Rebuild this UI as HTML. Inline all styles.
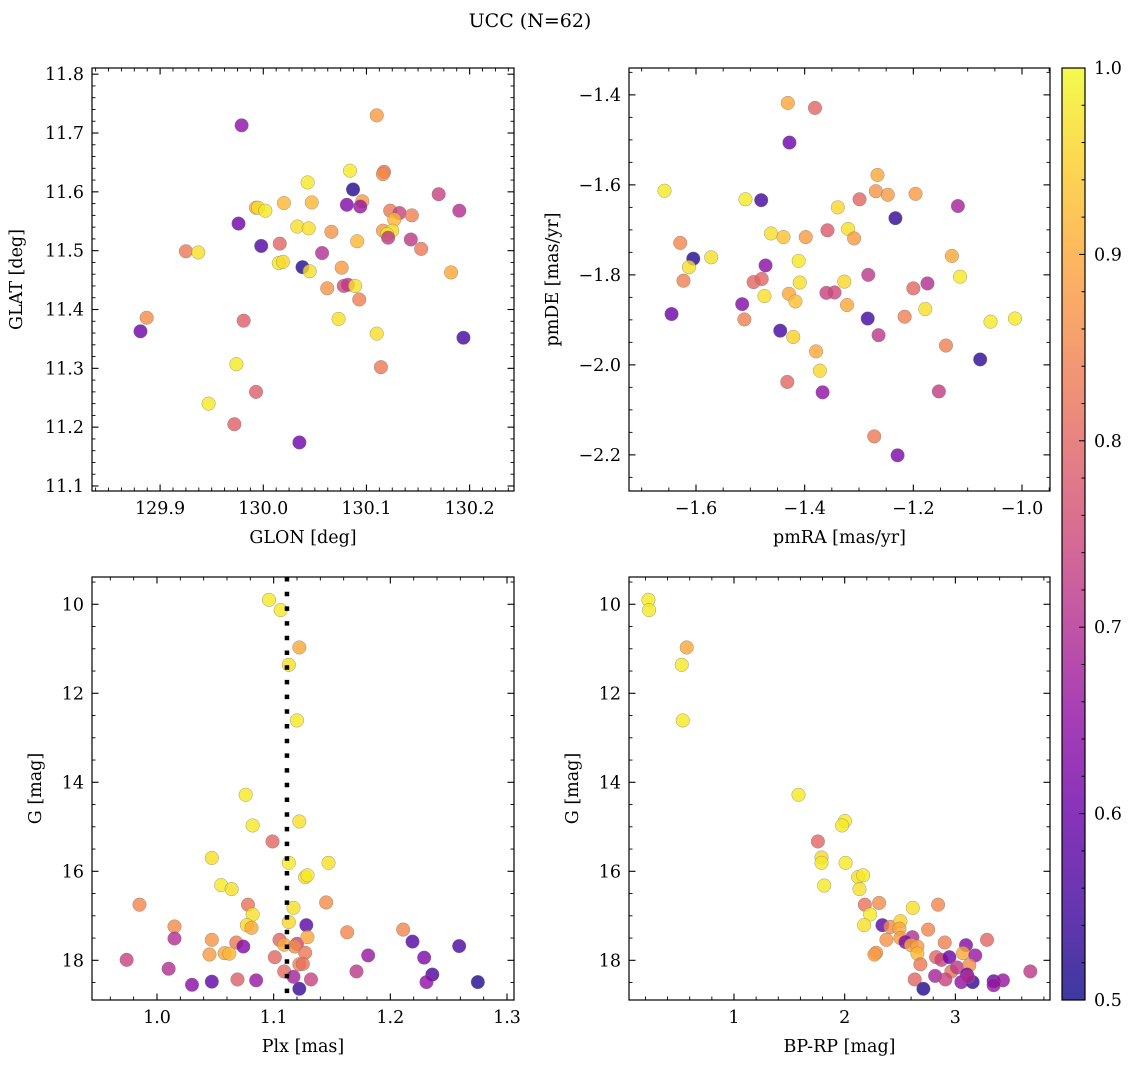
<!DOCTYPE html>
<html><head><meta charset="utf-8"><style>
html,body{margin:0;padding:0;background:#fff;}
svg{display:block;font-family:"DejaVu Serif","Liberation Serif",serif;}
</style></head><body>
<svg id="chart" width="1136" height="1067" viewBox="0 0 1136 1067" xmlns="http://www.w3.org/2000/svg">
<defs>
<linearGradient id="plasma" x1="0" y1="1" x2="0" y2="0">
<stop offset="0" stop-color="#0d0887"/><stop offset="0.1" stop-color="#41049d"/><stop offset="0.2" stop-color="#6a00a8"/><stop offset="0.3" stop-color="#8f0da4"/><stop offset="0.4" stop-color="#b12a90"/><stop offset="0.5" stop-color="#cc4778"/><stop offset="0.6" stop-color="#e16462"/><stop offset="0.7" stop-color="#f2844b"/><stop offset="0.8" stop-color="#fca636"/><stop offset="0.9" stop-color="#fcce25"/><stop offset="1" stop-color="#f0f921"/>
</linearGradient>
</defs>
<text x="530" y="27" font-size="19" text-anchor="middle">UCC (N=62)</text>
</svg>
<script>
// Panel 1: GLON / GLAT
const glon = [130.110,129.979,130.084,130.117,130.116,130.043,130.087,130.170,130.096,130.081,130.094,130.020,130.047,129.993,129.995,130.002,130.190,130.123,130.132,130.144,130.127,129.976,130.033,130.044,130.116,130.125,130.120,130.121,130.066,130.091,130.143,129.998,130.016,130.153,129.925,129.937,130.057,130.015,130.019,130.038,130.045,130.076,130.182,130.062,130.078,130.082,130.089,130.093,129.887,129.881,129.981,130.073,130.110,130.194,129.974,130.114,129.993,129.947,129.972,130.035];
const glat = [11.730,11.713,11.636,11.634,11.630,11.616,11.604,11.596,11.584,11.578,11.575,11.581,11.582,11.573,11.573,11.568,11.568,11.568,11.564,11.560,11.553,11.546,11.541,11.538,11.534,11.534,11.528,11.522,11.532,11.516,11.519,11.508,11.512,11.503,11.499,11.497,11.496,11.479,11.481,11.472,11.465,11.471,11.463,11.436,11.440,11.442,11.440,11.417,11.386,11.363,11.381,11.384,11.359,11.352,11.307,11.302,11.260,11.240,11.205,11.174];
const prob1 = [0.88,0.65,0.98,0.82,0.86,0.98,0.52,0.74,0.88,0.63,0.66,0.92,0.92,0.90,0.97,0.98,0.70,0.83,0.74,0.84,0.92,0.60,0.97,0.97,0.88,0.96,0.98,0.72,0.87,0.92,0.72,0.57,0.80,0.83,0.83,0.97,0.70,0.98,0.96,0.52,0.97,0.88,0.90,0.87,0.75,0.72,0.97,0.84,0.86,0.60,0.79,0.97,0.97,0.55,0.98,0.83,0.79,0.98,0.79,0.60];
// Panel 2: pmRA / pmDE
const pmra = [-1.431,-1.381,-1.428,-1.266,-1.658,-1.509,-1.480,-1.269,-1.247,-1.196,-1.299,-1.118,-1.339,-1.233,-1.462,-1.439,-1.398,-1.358,-1.320,-1.309,-1.629,-1.605,-1.572,-1.613,-1.623,-1.129,-1.411,-1.472,-1.494,-1.479,-1.409,-1.327,-1.283,-1.114,-1.174,-1.200,-1.474,-1.429,-1.417,-1.360,-1.345,-1.322,-1.515,-1.645,-1.511,-1.284,-1.178,-1.216,-1.058,-1.013,-1.445,-1.421,-1.264,-1.379,-1.140,-1.077,-1.372,-1.432,-1.367,-1.153,-1.272,-1.229];
const pmde = [-1.418,-1.429,-1.506,-1.578,-1.613,-1.632,-1.634,-1.614,-1.622,-1.620,-1.632,-1.647,-1.650,-1.674,-1.708,-1.716,-1.716,-1.701,-1.698,-1.719,-1.729,-1.764,-1.761,-1.783,-1.813,-1.758,-1.769,-1.779,-1.816,-1.809,-1.817,-1.815,-1.800,-1.804,-1.819,-1.830,-1.847,-1.842,-1.859,-1.840,-1.839,-1.867,-1.865,-1.887,-1.899,-1.897,-1.876,-1.893,-1.904,-1.897,-1.924,-1.938,-1.934,-1.970,-1.957,-1.988,-2.013,-2.038,-2.061,-2.059,-2.159,-2.201];
const prob2 = [0.90,0.80,0.60,0.90,0.98,0.98,0.55,0.87,0.88,0.88,0.80,0.68,0.96,0.53,0.97,0.93,0.88,0.78,0.97,0.88,0.85,0.52,0.97,0.97,0.84,0.90,0.98,0.64,0.80,0.80,0.97,0.96,0.72,0.98,0.70,0.80,0.97,0.90,0.93,0.74,0.75,0.90,0.63,0.60,0.84,0.55,0.97,0.84,0.98,0.98,0.55,0.95,0.72,0.90,0.84,0.53,0.96,0.80,0.65,0.73,0.83,0.62];
// Panel 3: Plx / G
const plx = [1.096,1.106,1.122,1.113,1.120,1.076,1.122,1.082,1.099,1.047,1.113,1.147,1.127,1.129,1.055,1.064,0.985,1.078,1.145,1.117,1.082,1.015,1.077,1.081,1.113,1.128,1.163,1.211,1.015,1.047,1.068,1.074,1.105,1.109,1.120,1.118,1.129,1.219,1.259,1.045,1.058,1.062,1.101,1.127,1.181,1.229,0.974,1.122,1.125,1.010,1.109,1.171,1.117,1.236,1.069,1.085,1.047,1.132,1.231,1.275,1.030,1.122];
const gmag3 = [9.90,10.13,10.97,11.36,12.61,14.28,14.88,14.97,15.33,15.70,15.81,15.81,16.13,16.09,16.31,16.40,16.75,16.75,16.70,16.82,16.97,17.24,17.21,17.27,17.14,17.21,17.37,17.31,17.51,17.54,17.60,17.69,17.54,17.65,17.63,17.69,17.48,17.58,17.68,17.87,17.84,17.85,17.93,17.83,17.89,17.94,17.99,18.09,18.08,18.19,18.25,18.25,18.37,18.32,18.43,18.45,18.48,18.43,18.49,18.49,18.55,18.64];
const prob3 = [0.98,0.98,0.90,0.97,0.98,0.98,0.97,0.98,0.80,0.97,0.98,0.97,0.97,0.98,0.98,0.97,0.85,0.82,0.86,0.97,0.97,0.86,0.96,0.90,0.96,0.58,0.85,0.85,0.70,0.87,0.83,0.63,0.80,0.90,0.74,0.86,0.90,0.57,0.56,0.88,0.90,0.92,0.80,0.83,0.66,0.62,0.74,0.84,0.82,0.70,0.81,0.72,0.68,0.56,0.79,0.66,0.58,0.74,0.65,0.52,0.64,0.54];
const plxLine = [1.1114];
// Panel 4: BP-RP / G
const bprp = [0.227,0.233,0.573,0.528,0.537,1.583,2.002,1.977,1.758,1.791,1.791,2.008,2.122,2.167,1.815,2.134,2.182,2.311,2.615,2.844,2.230,2.176,2.341,2.414,2.504,2.495,2.754,2.612,2.377,2.504,2.549,2.600,2.657,2.904,3.286,3.096,2.284,2.269,2.657,2.826,2.874,2.946,3.069,3.180,2.684,2.964,3.015,3.126,3.677,3.105,2.817,2.633,2.910,3.054,3.156,3.346,3.430,3.346,2.711,3.114];
const gmag4 = [9.90,10.13,10.97,11.36,12.61,14.28,14.87,14.97,15.33,15.69,15.81,15.81,16.13,16.09,16.32,16.40,16.75,16.71,16.82,16.75,16.97,17.21,17.21,17.25,17.12,17.29,17.31,17.48,17.54,17.50,17.59,17.66,17.69,17.60,17.54,17.66,17.83,17.87,17.85,17.93,17.99,17.93,17.84,17.89,18.09,18.25,18.16,18.11,18.25,18.32,18.35,18.43,18.43,18.49,18.49,18.47,18.45,18.56,18.64,18.38];
const prob4 = [0.98,0.98,0.90,0.98,0.98,0.98,0.98,0.98,0.80,0.96,0.98,0.98,0.97,0.98,0.98,0.97,0.82,0.86,0.97,0.85,0.98,0.97,0.58,0.86,0.95,0.90,0.85,0.70,0.87,0.88,0.62,0.90,0.88,0.84,0.80,0.63,0.87,0.88,0.92,0.80,0.74,0.60,0.90,0.66,0.83,0.82,0.72,0.86,0.72,0.60,0.68,0.80,0.74,0.65,0.53,0.60,0.66,0.66,0.52,0.70];
// Colorbar ticks
const cbTicks = [0.5,0.6,0.7,0.8,0.9,1.0];

const NS = 'http://www.w3.org/2000/svg';
const svg = document.getElementById('chart');
const stops = [[13,8,135],[65,4,157],[106,0,168],[143,13,164],[177,42,144],[204,71,120],[225,100,98],[242,132,75],[252,166,54],[252,206,37],[240,249,33]];
function plasma(p){
  let t = Math.max(0, Math.min(1, (p - 0.5) / 0.5)) * 10;
  const i = Math.min(9, Math.floor(t)); const f = t - i;
  const a = stops[i], b = stops[i+1];
  return 'rgb(' + [0,1,2].map(k => Math.round(a[k] + (b[k]-a[k]) * f)).join(',') + ')';
}
function el(tag, attrs, parent){
  const e = document.createElementNS(NS, tag);
  for (const k in attrs) e.setAttribute(k, attrs[k]);
  (parent || svg).appendChild(e);
  return e;
}
function fmt(v, d){ const s = Math.abs(v).toFixed(d); return (v < -1e-9 ? '\u2212' : '') + s; }
const FS = 17.5;

function panel(cfg){
  const g = el('g', {});
  
  
  const L = cfg.box[0], T = cfg.box[1], R = cfg.box[2], B = cfg.box[3];
  const sx = v => L + (v - cfg.xr[0]) / (cfg.xr[1] - cfg.xr[0]) * (R - L);
  const sy = cfg.yinv ? (v => T + (v - cfg.yr[0]) / (cfg.yr[1] - cfg.yr[0]) * (B - T))
                      : (v => B - (v - cfg.yr[0]) / (cfg.yr[1] - cfg.yr[0]) * (B - T));
  const marks = el('g', {}, g);
  
  
  for (let i = 0; i < cfg.xs.length; i++){
    const c = el('circle', {cx: sx(cfg.xs[i]), cy: sy(cfg.ys[i]), r: 6.8, fill: plasma(cfg.ps[i]), 'fill-opacity': 0.8, stroke: '#777', 'stroke-width': 0.5, 'stroke-opacity': 0.7}, marks);
    
    
  }
  if (cfg.vline){
    const ln = el('line', {x1: sx(cfg.vline[0]), x2: sx(cfg.vline[0]), y1: T, y2: B, stroke: '#000', 'stroke-width': 4.5, 'stroke-dasharray': '4.5 10.2'}, g);
    
    
  }
  const frame = el('rect', {x: L, y: T, width: R - L, height: B - T, fill: 'none', stroke: '#000', 'stroke-width': 1.2}, g);
  
  
  const xt = cfg.xticks, xstep = xt[1] - xt[0], xm = xstep / cfg.xminor;
  for (let v = Math.ceil((cfg.xr[0]) / xm - 1e-6) * xm; v <= cfg.xr[1] + 1e-9; v += xm){
    const major = Math.abs(Math.round((v - xt[0]) / xstep) * xstep + xt[0] - v) < xm * 0.1;
    const len = major ? 6.5 : 3.5, x = sx(v);
    el('line', {x1: x, x2: x, y1: B, y2: B - len, stroke: '#000', 'stroke-width': major ? 1.1 : 0.9}, g);
    el('line', {x1: x, x2: x, y1: T, y2: T + len, stroke: '#000', 'stroke-width': major ? 1.1 : 0.9}, g);
  }
  xt.forEach(v => {
    const t = el('text', {x: sx(v), y: B + 23, 'font-size': FS, 'text-anchor': 'middle'}, g);
    
    
    t.textContent = fmt(v, cfg.xd);
  });
  const yt = cfg.yticks, ystep = yt[1] - yt[0], ym = ystep / cfg.yminor;
  const ylo = Math.min(cfg.yr[0], cfg.yr[1]), yhi = Math.max(cfg.yr[0], cfg.yr[1]);
  for (let v = Math.ceil(ylo / ym - 1e-6) * ym; v <= yhi + 1e-9; v += ym){
    const major = Math.abs(Math.round((v - yt[0]) / ystep) * ystep + yt[0] - v) < ym * 0.1;
    const len = major ? 6.5 : 3.5, y = sy(v);
    el('line', {x1: L, x2: L + len, y1: y, y2: y, stroke: '#000', 'stroke-width': major ? 1.1 : 0.9}, g);
    el('line', {x1: R, x2: R - len, y1: y, y2: y, stroke: '#000', 'stroke-width': major ? 1.1 : 0.9}, g);
  }
  yt.forEach(v => {
    const t = el('text', {x: L - 8, y: sy(v) + 6, 'font-size': FS, 'text-anchor': 'end'}, g);
    
    
    t.textContent = fmt(v, cfg.yd);
  });
  const xl = el('text', {x: (L + R) / 2, y: B + 52, 'font-size': FS, 'text-anchor': 'middle'}, g);
  
  
  xl.textContent = cfg.xlabel;
  const yl = el('text', {x: 0, y: 0, 'font-size': FS, 'text-anchor': 'middle', transform: 'translate(' + cfg.ylx + ',' + ((T + B) / 2) + ') rotate(-90)'}, g);
  
  
  yl.textContent = cfg.ylabel;
}

panel({name: 'glon-glat-panel', box: [92, 68, 514, 491], xr: [129.834, 130.243], yr: [11.0915, 11.8105],
  xs: glon, ys: glat, ps: prob1, xticks: [129.9, 130.0, 130.1, 130.2], xd: 1, xminor: 8,
  yticks: [11.1, 11.2, 11.3, 11.4, 11.5, 11.6, 11.7, 11.8], yd: 1, yminor: 5,
  xlabel: 'GLON [deg]', ylabel: 'GLAT [deg]', ylx: 22});
panel({name: 'pm-panel', box: [629, 68, 1050, 491], xr: [-1.7233, -0.9485], yr: [-2.2803, -1.3403],
  xs: pmra, ys: pmde, ps: prob2, xticks: [-1.6, -1.4, -1.2, -1.0], xd: 1, xminor: 4,
  yticks: [-2.2, -2.0, -1.8, -1.6, -1.4], yd: 1, yminor: 4,
  xlabel: 'pmRA [mas/yr]', ylabel: 'pmDE [mas/yr]', ylx: 558});
panel({name: 'plx-g-panel', box: [92, 577, 514, 1000], xr: [0.9443, 1.3060], yr: [9.387, 18.892], yinv: true,
  xs: plx, ys: gmag3, ps: prob3, vline: plxLine, xticks: [1.0, 1.1, 1.2, 1.3], xd: 1, xminor: 5,
  yticks: [10, 12, 14, 16, 18], yd: 0, yminor: 4,
  xlabel: 'Plx [mas]', ylabel: 'G [mag]', ylx: 41});
panel({name: 'cmd-panel', box: [629, 577, 1050, 1000], xr: [0.0515, 3.855], yr: [9.387, 18.892], yinv: true,
  xs: bprp, ys: gmag4, ps: prob4, xticks: [1, 2, 3], xd: 0, xminor: 5,
  yticks: [10, 12, 14, 16, 18], yd: 0, yminor: 4,
  xlabel: 'BP-RP [mag]', ylabel: 'G [mag]', ylx: 578});

// Colorbar
const cb = el('g', {});


const cbT = 68, cbB = 1000, cbL = 1062, cbR = 1085;
const cbY = v => cbB - (v - 0.5) / 0.5 * (cbB - cbT);
el('rect', {x: cbL, y: cbT, width: cbR - cbL, height: cbB - cbT, fill: 'url(#plasma)', 'fill-opacity': 0.8, stroke: '#000', 'stroke-width': 1.2}, cb);
for (let v = 0.5; v <= 1.0001; v += 0.02){
  const major = Math.abs(Math.round(v * 10) / 10 - v) < 0.002;
  el('line', {x1: cbR, x2: cbR - (major ? 6 : 3.5), y1: cbY(v), y2: cbY(v), stroke: '#000', 'stroke-width': 1}, cb);
}
cbTicks.forEach(v => {
  const t = el('text', {x: cbR + 9, y: cbY(v) + 6, 'font-size': FS, 'text-anchor': 'start'}, cb);
  
  
  t.textContent = v.toFixed(1);
});
</script>
</body></html>
